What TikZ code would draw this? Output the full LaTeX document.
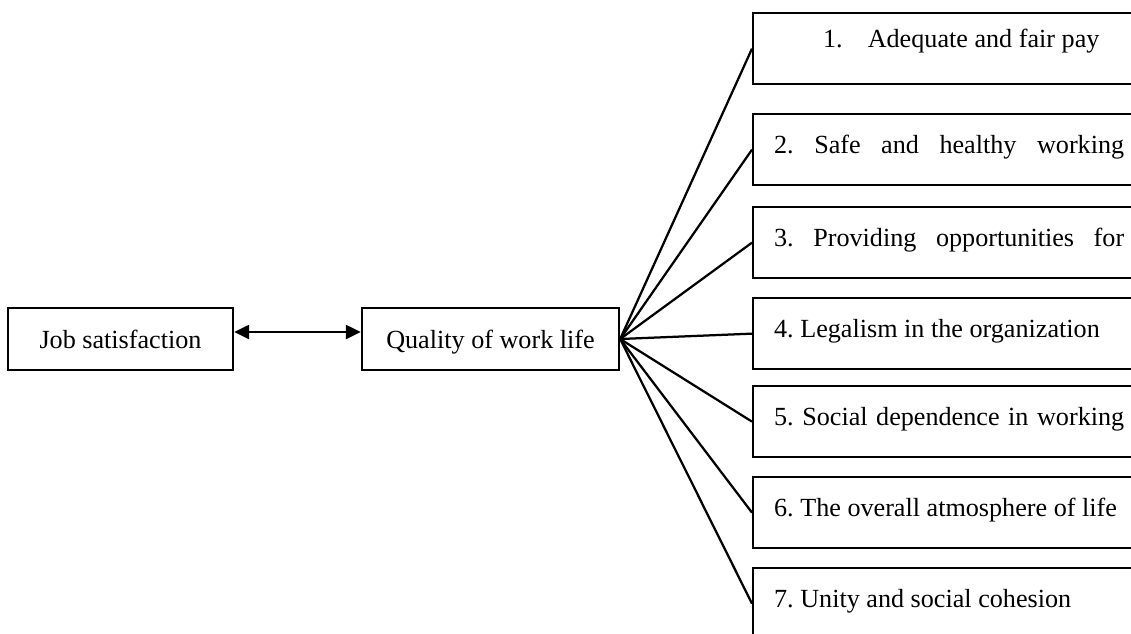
\documentclass[tikz,border=0pt]{standalone}
\usepackage{fontspec}
\setmainfont{Liberation Serif}
\usetikzlibrary{arrows.meta}
\newcommand{\plainspaces}{\spaceskip=0pt\relax\xspaceskip=0pt\relax}
\begin{document}
\begin{tikzpicture}[x=0.025cm, y=-0.025cm,
    box/.style={draw, line width=1.6pt, minimum height=1.55cm, inner sep=0pt, text height=0.5cm, text depth=0.05cm, font=\fontsize{18.6}{22}\selectfont\frenchspacing},
    factor/.style={draw, line width=1.6pt, anchor=north west, minimum height=1.775cm, text width=9.2cm, inner xsep=0.525cm, inner ysep=0pt, text height=0.5cm, text depth=0.325cm, align=left, font=\fontsize{18.6}{22}\selectfont\frenchspacing, execute at begin node=\plainspaces},
    link/.style={line width=1.6pt}]
    \useasboundingbox (0,0) rectangle (1131,633);
    \clip (0,0) rectangle (1131,633);
    \node[box, minimum width=5.625cm] (job) at (120.5,339) {Job satisfaction};
    \node[box, minimum width=6.425cm] (qwl) at (490.5,339) {Quality of work life};
    \node[factor, text depth=0.575cm] (f1) at (752,12) {\hspace*{1.225cm}1.\hspace{0.625cm}Adequate and fair pay};
    \node[factor] (f2) at (752,113) {\makebox[8.75cm][l]{2.\hfill Safe\hfill and\hfill healthy\hfill working}};
    \node[factor] (f3) at (752,206) {\makebox[8.75cm][l]{3.\hfill Providing\hfill opportunities\hfill for}};
    \node[factor] (f4) at (752,297) {4. Legalism in the organization};
    \node[factor] (f5) at (752,385) {\makebox[8.75cm][s]{5. Social dependence in working}};
    \node[factor] (f6) at (752,476) {6. The overall atmosphere of life};
    \node[factor] (f7) at (752,567) {7. Unity and social cohesion};
    \draw[link, {Triangle[length=0.375cm,width=0.35cm]}-{Triangle[length=0.375cm,width=0.35cm]}] ([yshift=0.175cm]job.east) -- ([yshift=0.175cm]qwl.west);
    \foreach \i in {1,...,7}
        \draw[link] (qwl.east) -- (f\i.west);
\end{tikzpicture}
\end{document}
